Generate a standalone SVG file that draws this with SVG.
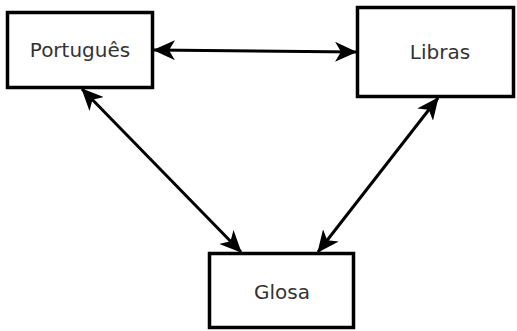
<svg xmlns="http://www.w3.org/2000/svg" width="517" height="331" viewBox="0 0 517 331">
<style>
.box{fill:#fff;stroke:#000;stroke-width:3.5}
.lbl{font-family:"DejaVu Sans",sans-serif;font-size:20px;fill:#333;text-anchor:middle;dominant-baseline:central}
.con{stroke:#000;stroke-width:3;fill:none;marker-start:url(#ah);marker-end:url(#ah)}
</style>
<defs>
<marker id="ah" viewBox="0 0 22 20" refX="21" refY="10" markerWidth="22" markerHeight="20" markerUnits="userSpaceOnUse" orient="auto-start-reverse">
<path d="M0,0 L22,10 L0,20 L6,10 Z" fill="#000"/>
</marker>
</defs>
<rect width="517" height="331" fill="#fff"/>
<g id="portugues"><rect class="box" x="7.5" y="12.5" width="145" height="75"/><text class="lbl" x="80" y="50">Português</text></g>
<g id="libras"><rect class="box" x="357.5" y="7.5" width="156" height="89"/><text class="lbl" x="440" y="52">Libras</text></g>
<g id="glosa"><rect class="box" x="209.5" y="253.5" width="144" height="74"/><text class="lbl" x="282" y="292">Glosa</text></g>
<g id="connectors">
<line class="con" x1="154" y1="50" x2="356" y2="52"/>
<line class="con" x1="82" y1="89" x2="241" y2="252"/>
<line class="con" x1="438" y1="98" x2="318" y2="252"/>
</g>
</svg>
